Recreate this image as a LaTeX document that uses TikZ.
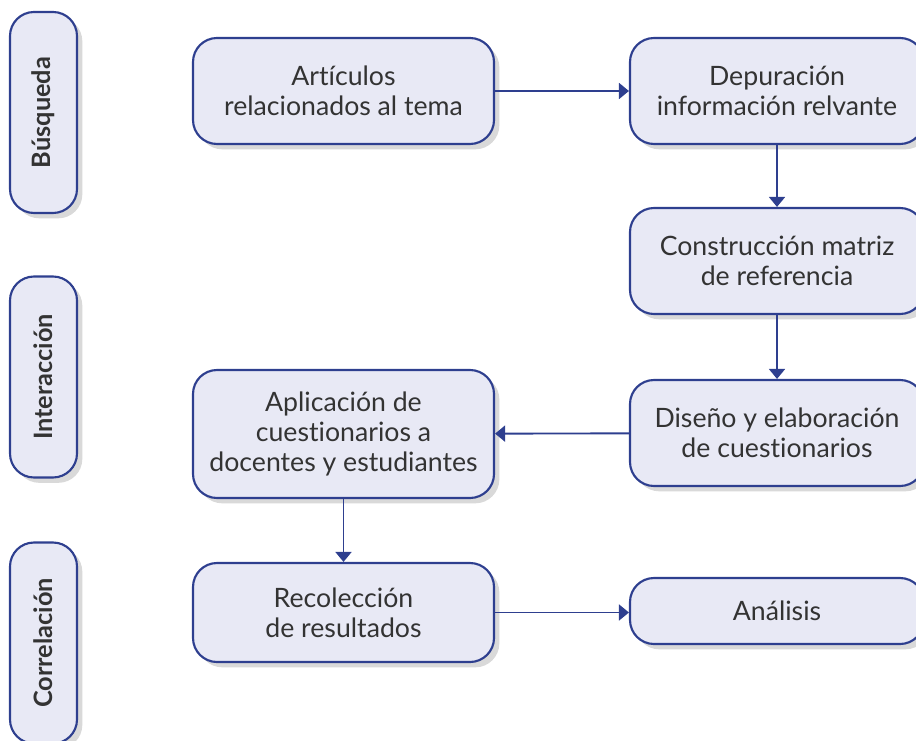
\documentclass[tikz,border=0pt]{standalone}
\usepackage{fontspec}
\setmainfont{Lato}[Ligatures=NoCommon]
\usetikzlibrary{shadows,arrows.meta}
\definecolor{marco}{HTML}{2E3F8F}
\definecolor{relleno}{HTML}{E8E9F5}
\tikzset{
  caja/.style={draw=marco, fill=relleno, line width=1.6pt, rounded corners=18pt,
    align=center, inner sep=0pt, font=\fontsize{20}{22.5}\selectfont, text=black!80,
    drop shadow={shadow xshift=4pt, shadow yshift=-4pt, opacity=0.25, fill=black!60}},
  etapa/.style={caja, rotate=90, minimum width=150.75pt, minimum height=50.25pt,
    font=\bfseries\fontsize{19}{20}\selectfont},
  flecha/.style={draw=marco, line width=1.4pt, -{Triangle[length=7.5pt,width=12pt]}}
}
\begin{document}
\begin{tikzpicture}[x=0.75pt,y=-0.75pt]
\useasboundingbox (0,0) rectangle (916,741);
\clip (0,0) rectangle (916,741);
% etapas
\node[etapa] (busq) at (43.5,112.5) {Búsqueda};
\node[etapa] (inter) at (43.5,377) {Interacción};
\node[etapa] (corr) at (43.5,643) {Correlación};
% pasos
\node[caja, minimum width=225.75pt, minimum height=79.5pt] (art) at (343.5,91) {Artículos\\relacionados al tema};
\node[caja, minimum width=220.5pt, minimum height=79.5pt] (dep) at (777,91) {Depuración\\información relvante};
\node[caja, minimum width=220.5pt, minimum height=79.5pt] (cons) at (777,261) {Construcción matriz\\de referencia};
\node[caja, minimum width=220.5pt, minimum height=79.5pt] (dis) at (777,433) {Diseño y elaboración\\de cuestionarios};
\node[caja, minimum width=225.75pt, minimum height=96pt] (apl) at (343.5,434) {Aplicación de\\cuestionarios a\\docentes y estudiantes};
\node[caja, minimum width=225.75pt, minimum height=74.25pt] (rec) at (343.5,612.5) {Recolección\\de resultados};
\node[caja, minimum width=220.5pt, minimum height=49.5pt] (ana) at (777,611) {Análisis};
% conexiones
\draw[flecha] (art) -- (dep);
\draw[flecha] (dep) -- (cons);
\draw[flecha] (cons) -- (dis);
\draw[flecha] (dis) -- (apl);
\draw[flecha] (apl) -- (rec);
\draw[flecha] (rec.east) -- (rec.east -| ana.west);
\end{tikzpicture}
\end{document}
